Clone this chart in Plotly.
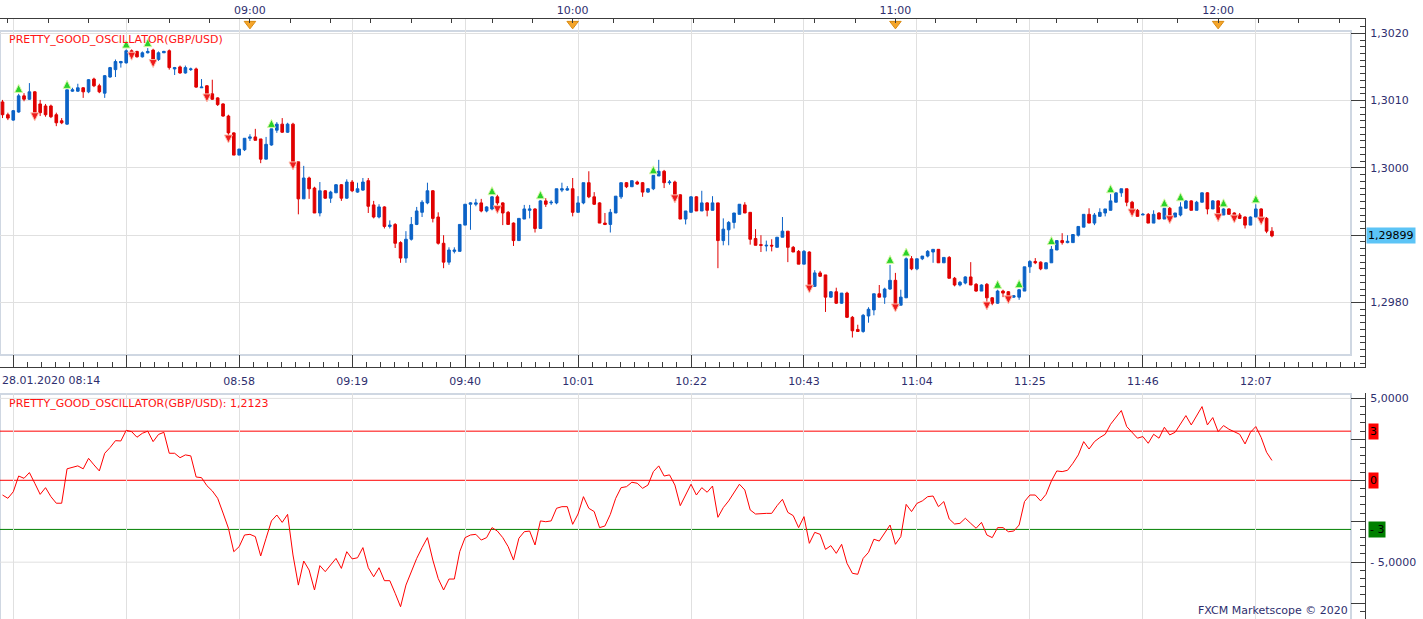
import pandas as pd
import plotly.graph_objects as go

# ---------------- data ----------------
open_ = [
    1.30098, 1.30079, 1.30071, 1.30083, 1.30107, 1.30102, 1.30113, 1.30095, 1.30092, 1.30092,
    1.30079, 1.30070, 1.30065, 1.30114, 1.30114, 1.30119, 1.30113, 1.30132, 1.30122, 1.30111,
    1.30135, 1.30146, 1.30156, 1.30156, 1.30174, 1.30173, 1.30165, 1.30171, 1.30175, 1.30161,
    1.30171, 1.30174, 1.30147, 1.30150, 1.30141, 1.30146, 1.30147, 1.30119, 1.30122, 1.30110,
    1.30104, 1.30095, 1.30077, 1.30052, 1.30019, 1.30027, 1.30044, 1.30046, 1.30043, 1.30013,
    1.30034, 1.30056, 1.30065, 1.30053, 1.30065, 1.30009, 1.29954, 1.29985, 1.29970, 1.29933,
    1.29966, 1.29955, 1.29963, 1.29975, 1.29955, 1.29979, 1.29964, 1.29967, 1.29981, 1.29945,
    1.29927, 1.29942, 1.29913, 1.29916, 1.29889, 1.29866, 1.29894, 1.29916, 1.29934, 1.29948,
    1.29966, 1.29927, 1.29888, 1.29860, 1.29876, 1.29876, 1.29915, 1.29946, 1.29946, 1.29948,
    1.29936, 1.29939, 1.29957, 1.29948, 1.29934, 1.29918, 1.29892, 1.29924, 1.29937, 1.29939,
    1.29910, 1.29951, 1.29948, 1.29948, 1.29967, 1.29967, 1.29969, 1.29934, 1.29948, 1.29978,
    1.29957, 1.29948, 1.29918, 1.29916, 1.29933, 1.29957, 1.29978, 1.29972, 1.29979, 1.29978,
    1.29964, 1.29969, 1.29988, 1.29995, 1.29978, 1.29979, 1.29960, 1.29924, 1.29934, 1.29957,
    1.29936, 1.29948, 1.29937, 1.29948, 1.29892, 1.29908, 1.29919, 1.29931, 1.29945, 1.29934,
    1.29895, 1.29886, 1.29884, 1.29885, 1.29882, 1.29897, 1.29906, 1.29882, 1.29876, 1.29857,
    1.29875, 1.29824, 1.29844, 1.29841, 1.29808, 1.29816, 1.29799, 1.29814, 1.29778, 1.29760,
    1.29757, 1.29780, 1.29789, 1.29813, 1.29808, 1.29820, 1.29833, 1.29796, 1.29807, 1.29865,
    1.29850, 1.29865, 1.29869, 1.29875, 1.29879, 1.29859, 1.29867, 1.29836, 1.29826, 1.29829,
    1.29838, 1.29827, 1.29817, 1.29827, 1.29807, 1.29799, 1.29817, 1.29816, 1.29808, 1.29808,
    1.29817, 1.29853, 1.29861, 1.29860, 1.29850, 1.29859, 1.29878, 1.29892, 1.29889, 1.29889,
    1.29900, 1.29912, 1.29931, 1.29918, 1.29928, 1.29933, 1.29937, 1.29949, 1.29963, 1.29969,
    1.29949, 1.29937, 1.29930, 1.29931, 1.29918, 1.29933, 1.29924, 1.29940, 1.29927, 1.29930,
    1.29940, 1.29951, 1.29937, 1.29949, 1.29963, 1.29939, 1.29951, 1.29930, 1.29939, 1.29933,
    1.29930, 1.29927, 1.29915, 1.29927, 1.29939, 1.29925, 1.29906,
]
high_ = [
    1.30101, 1.30082, 1.30086, 1.30110, 1.30111, 1.30126, 1.30114, 1.30101, 1.30095, 1.30094,
    1.30082, 1.30074, 1.30116, 1.30119, 1.30125, 1.30120, 1.30132, 1.30134, 1.30125, 1.30138,
    1.30150, 1.30161, 1.30159, 1.30176, 1.30176, 1.30174, 1.30173, 1.30178, 1.30177, 1.30173,
    1.30174, 1.30176, 1.30150, 1.30152, 1.30152, 1.30149, 1.30149, 1.30132, 1.30123, 1.30131,
    1.30105, 1.30096, 1.30079, 1.30053, 1.30028, 1.30044, 1.30050, 1.30058, 1.30043, 1.30046,
    1.30058, 1.30068, 1.30074, 1.30067, 1.30067, 1.30009, 1.30003, 1.29987, 1.29972, 1.29979,
    1.29967, 1.29966, 1.29976, 1.29976, 1.29983, 1.29982, 1.29978, 1.29985, 1.29985, 1.29951,
    1.29946, 1.29943, 1.29922, 1.29918, 1.29891, 1.29906, 1.29927, 1.29942, 1.29952, 1.29978,
    1.29967, 1.29934, 1.29900, 1.29882, 1.29882, 1.29916, 1.29946, 1.29949, 1.29954, 1.29954,
    1.29943, 1.29958, 1.29960, 1.29949, 1.29936, 1.29919, 1.29925, 1.29945, 1.29945, 1.29940,
    1.29952, 1.29955, 1.29952, 1.29969, 1.29978, 1.29973, 1.29985, 1.29958, 1.29978, 1.29995,
    1.29964, 1.29949, 1.29933, 1.29939, 1.29958, 1.29978, 1.29979, 1.29981, 1.29981, 1.29979,
    1.29970, 1.29989, 1.30012, 1.29997, 1.29982, 1.29981, 1.29961, 1.29936, 1.29958, 1.29958,
    1.29966, 1.29949, 1.29958, 1.29948, 1.29925, 1.29921, 1.29933, 1.29946, 1.29949, 1.29934,
    1.29909, 1.29900, 1.29892, 1.29894, 1.29897, 1.29927, 1.29906, 1.29884, 1.29878, 1.29878,
    1.29876, 1.29848, 1.29847, 1.29841, 1.29817, 1.29822, 1.29814, 1.29816, 1.29780, 1.29767,
    1.29783, 1.29793, 1.29813, 1.29826, 1.29822, 1.29856, 1.29844, 1.29819, 1.29867, 1.29869,
    1.29865, 1.29869, 1.29878, 1.29879, 1.29879, 1.29867, 1.29869, 1.29838, 1.29832, 1.29839,
    1.29860, 1.29829, 1.29827, 1.29829, 1.29808, 1.29819, 1.29819, 1.29817, 1.29811, 1.29820,
    1.29853, 1.29863, 1.29866, 1.29861, 1.29860, 1.29884, 1.29892, 1.29903, 1.29900, 1.29901,
    1.29913, 1.29931, 1.29940, 1.29933, 1.29940, 1.29939, 1.29961, 1.29963, 1.29969, 1.29969,
    1.29951, 1.29939, 1.29933, 1.29933, 1.29937, 1.29934, 1.29940, 1.29942, 1.29933, 1.29949,
    1.29952, 1.29952, 1.29951, 1.29963, 1.29964, 1.29952, 1.29952, 1.29940, 1.29940, 1.29934,
    1.29933, 1.29928, 1.29928, 1.29946, 1.29940, 1.29927, 1.29912,
]
low_ = [
    1.30074, 1.30071, 1.30070, 1.30082, 1.30099, 1.30101, 1.30080, 1.30077, 1.30076, 1.30074,
    1.30062, 1.30065, 1.30064, 1.30113, 1.30113, 1.30104, 1.30111, 1.30120, 1.30111, 1.30104,
    1.30134, 1.30135, 1.30149, 1.30155, 1.30170, 1.30164, 1.30164, 1.30170, 1.30159, 1.30159,
    1.30171, 1.30146, 1.30138, 1.30140, 1.30140, 1.30144, 1.30119, 1.30119, 1.30108, 1.30101,
    1.30092, 1.30076, 1.30047, 1.30019, 1.30019, 1.30025, 1.30040, 1.30041, 1.30007, 1.30013,
    1.30033, 1.30052, 1.30052, 1.30052, 1.30007, 1.29931, 1.29954, 1.29954, 1.29933, 1.29928,
    1.29954, 1.29948, 1.29963, 1.29951, 1.29954, 1.29964, 1.29963, 1.29966, 1.29933, 1.29925,
    1.29925, 1.29910, 1.29910, 1.29881, 1.29859, 1.29859, 1.29892, 1.29915, 1.29927, 1.29946,
    1.29919, 1.29886, 1.29851, 1.29856, 1.29873, 1.29876, 1.29915, 1.29908, 1.29943, 1.29934,
    1.29934, 1.29937, 1.29942, 1.29915, 1.29916, 1.29884, 1.29892, 1.29924, 1.29925, 1.29904,
    1.29910, 1.29942, 1.29945, 1.29946, 1.29964, 1.29966, 1.29928, 1.29934, 1.29946, 1.29955,
    1.29945, 1.29918, 1.29915, 1.29904, 1.29933, 1.29954, 1.29970, 1.29972, 1.29975, 1.29957,
    1.29963, 1.29967, 1.29988, 1.29970, 1.29975, 1.29958, 1.29924, 1.29916, 1.29934, 1.29936,
    1.29936, 1.29928, 1.29937, 1.29851, 1.29885, 1.29885, 1.29910, 1.29931, 1.29933, 1.29886,
    1.29885, 1.29875, 1.29876, 1.29876, 1.29882, 1.29897, 1.29860, 1.29875, 1.29857, 1.29857,
    1.29824, 1.29823, 1.29838, 1.29786, 1.29807, 1.29798, 1.29798, 1.29777, 1.29748, 1.29757,
    1.29755, 1.29770, 1.29781, 1.29808, 1.29798, 1.29819, 1.29796, 1.29796, 1.29807, 1.29848,
    1.29848, 1.29863, 1.29867, 1.29859, 1.29859, 1.29859, 1.29836, 1.29824, 1.29824, 1.29827,
    1.29826, 1.29816, 1.29817, 1.29799, 1.29796, 1.29798, 1.29808, 1.29808, 1.29807, 1.29804,
    1.29817, 1.29844, 1.29857, 1.29848, 1.29850, 1.29859, 1.29878, 1.29886, 1.29888, 1.29889,
    1.29898, 1.29912, 1.29918, 1.29915, 1.29928, 1.29928, 1.29937, 1.29949, 1.29957, 1.29943,
    1.29937, 1.29928, 1.29930, 1.29918, 1.29918, 1.29924, 1.29924, 1.29927, 1.29927, 1.29928,
    1.29940, 1.29937, 1.29937, 1.29949, 1.29931, 1.29939, 1.29930, 1.29930, 1.29931, 1.29928,
    1.29924, 1.29910, 1.29915, 1.29927, 1.29925, 1.29903, 1.29897,
]
close_ = [
    1.30079, 1.30074, 1.30085, 1.30107, 1.30102, 1.30113, 1.30082, 1.30082, 1.30079, 1.30076,
    1.30067, 1.30067, 1.30116, 1.30116, 1.30119, 1.30113, 1.30131, 1.30122, 1.30113, 1.30137,
    1.30149, 1.30158, 1.30158, 1.30174, 1.30171, 1.30165, 1.30171, 1.30173, 1.30161, 1.30171,
    1.30173, 1.30149, 1.30149, 1.30141, 1.30149, 1.30147, 1.30120, 1.30120, 1.30110, 1.30102,
    1.30094, 1.30077, 1.30052, 1.30019, 1.30028, 1.30044, 1.30046, 1.30041, 1.30013, 1.30035,
    1.30058, 1.30065, 1.30053, 1.30065, 1.30007, 1.29954, 1.29985, 1.29969, 1.29933, 1.29966,
    1.29955, 1.29964, 1.29975, 1.29955, 1.29979, 1.29966, 1.29969, 1.29979, 1.29943, 1.29927,
    1.29942, 1.29913, 1.29915, 1.29888, 1.29866, 1.29894, 1.29916, 1.29936, 1.29949, 1.29966,
    1.29925, 1.29888, 1.29860, 1.29878, 1.29878, 1.29916, 1.29946, 1.29948, 1.29948, 1.29936,
    1.29942, 1.29957, 1.29948, 1.29933, 1.29916, 1.29892, 1.29925, 1.29939, 1.29939, 1.29910,
    1.29951, 1.29946, 1.29949, 1.29969, 1.29969, 1.29969, 1.29934, 1.29948, 1.29978, 1.29957,
    1.29946, 1.29918, 1.29916, 1.29934, 1.29958, 1.29978, 1.29972, 1.29981, 1.29976, 1.29964,
    1.29969, 1.29989, 1.29995, 1.29978, 1.29979, 1.29958, 1.29924, 1.29936, 1.29957, 1.29936,
    1.29948, 1.29937, 1.29948, 1.29892, 1.29909, 1.29919, 1.29933, 1.29946, 1.29933, 1.29894,
    1.29885, 1.29885, 1.29885, 1.29884, 1.29897, 1.29906, 1.29882, 1.29875, 1.29857, 1.29876,
    1.29824, 1.29844, 1.29839, 1.29808, 1.29816, 1.29799, 1.29814, 1.29778, 1.29758, 1.29757,
    1.29781, 1.29790, 1.29813, 1.29808, 1.29820, 1.29833, 1.29796, 1.29808, 1.29865, 1.29850,
    1.29865, 1.29869, 1.29876, 1.29879, 1.29859, 1.29867, 1.29836, 1.29826, 1.29830, 1.29838,
    1.29826, 1.29817, 1.29826, 1.29807, 1.29799, 1.29817, 1.29814, 1.29808, 1.29810, 1.29819,
    1.29853, 1.29861, 1.29859, 1.29850, 1.29859, 1.29879, 1.29892, 1.29889, 1.29891, 1.29901,
    1.29913, 1.29931, 1.29918, 1.29930, 1.29934, 1.29939, 1.29951, 1.29963, 1.29969, 1.29949,
    1.29937, 1.29928, 1.29931, 1.29918, 1.29931, 1.29924, 1.29940, 1.29927, 1.29933, 1.29942,
    1.29951, 1.29937, 1.29949, 1.29963, 1.29939, 1.29951, 1.29930, 1.29939, 1.29931, 1.29928,
    1.29925, 1.29915, 1.29927, 1.29939, 1.29925, 1.29906, 1.29899,
]
osc = [
    -0.90, -1.10, -0.70, 0.26, 0.12, 0.47, -0.18, -0.86, -0.45, -1.00,
    -1.40, -1.40, 0.70, 0.77, 0.88, 0.70, 1.34, 0.94, 0.57, 1.65,
    2.00, 2.42, 2.40, 3.05, 2.97, 2.63, 2.87, 3.00, 2.36, 2.80,
    2.93, 1.65, 1.65, 1.38, 1.55, 1.49, 0.20, 0.16, -0.33, -0.65,
    -1.10, -2.00, -2.93, -4.36, -4.05, -3.34, -3.30, -3.44, -4.62, -3.54,
    -2.48, -2.12, -2.57, -2.08, -4.56, -6.40, -4.93, -5.48, -6.70, -5.21,
    -5.58, -5.17, -4.77, -5.38, -4.36, -4.80, -4.73, -4.11, -5.34, -5.89,
    -5.34, -6.13, -6.13, -6.90, -7.72, -6.40, -5.52, -4.77, -4.11, -3.50,
    -4.87, -6.00, -6.70, -6.03, -6.03, -4.36, -3.50, -3.34, -3.30, -3.65,
    -3.50, -2.89, -3.10, -3.50, -4.05, -4.87, -3.54, -3.14, -3.10, -3.95,
    -2.48, -2.53, -2.48, -1.71, -1.61, -1.61, -2.69, -2.06, -1.00, -1.71,
    -1.91, -2.89, -2.79, -2.08, -1.10, -0.45, -0.39, -0.12, -0.18, -0.49,
    -0.29, 0.53, 0.88, 0.26, 0.33, -0.29, -1.55, -0.90, -0.24, -0.90,
    -0.45, -0.73, -0.35, -2.26, -1.67, -1.26, -0.73, -0.24, -0.59, -1.81,
    -2.06, -2.02, -2.02, -2.02, -1.55, -1.16, -1.96, -2.16, -2.89, -2.22,
    -3.85, -3.18, -3.30, -4.22, -3.99, -4.46, -3.91, -5.07, -5.68, -5.74,
    -4.77, -4.40, -3.60, -3.71, -3.24, -2.73, -3.91, -3.44, -1.47, -1.91,
    -1.41, -1.26, -1.00, -0.96, -1.61, -1.30, -2.36, -2.67, -2.63, -2.32,
    -2.63, -2.93, -2.57, -3.34, -3.50, -2.89, -2.89, -3.14, -3.10, -2.73,
    -1.30, -0.90, -0.90, -1.26, -0.86, -0.04, 0.57, 0.53, 0.61, 1.04,
    1.55, 2.36, 1.91, 2.36, 2.61, 2.81, 3.42, 3.83, 4.26, 3.28,
    2.93, 2.57, 2.67, 2.26, 2.81, 2.57, 3.24, 2.77, 2.93, 3.48,
    3.95, 3.38, 3.95, 4.50, 3.38, 3.83, 2.97, 3.34, 3.12, 2.97,
    2.81, 2.22, 2.93, 3.28, 2.61, 1.71, 1.2123,
]
buy_signals = [3, 12, 23, 27, 50, 91, 100, 121, 165, 168, 185, 189, 195, 206, 216, 219, 227, 233]
sell_signals = [6, 24, 28, 38, 42, 54, 92, 125, 150, 166, 183, 187, 210, 217, 226, 229, 234]
price_ticks = [1.298, 1.299, 1.300, 1.301, 1.302]
osc_levels = [3, 0, -3]
osc_level_labels = ["3", "0", "- 3"]
osc_level_colors = ["#ff0000", "#ff0000", "#008000"]
osc_ticks = [5, 2.5, 0, -2.5, -5, -7.5]
osc_tick_text = ["5,0000", "", "", "", "- 5,0000", ""]
symbol = "GBP/USD"
start = pd.Timestamp("2020-01-28 08:14")

times = [start + pd.Timedelta(minutes=i) for i in range(len(close_))]

# ---------------- geometry helpers ----------------
W, H = 1423, 619
MR, MT = 58, 19
PW, PH = W - MR, H - MT


def fx(px):
    return px / PW


def fy(py):
    return (H - py) / PH


t_lo = start - pd.Timedelta(seconds=28)
t_hi = start + pd.Timedelta(minutes=253.3)
price_range = [1.297042, 1.302212]
osc_range = [-8.47, 5.33]

BLUE = "#0b62c6"
RED = "#e00000"
TXT = "#2e2e6e"
AX = "#3c3c3c"
GRID = "#e0e0e0"
FRAME = "#cfd7e2"
FONT = "DejaVu Sans"

# price tick labels: the last-price box replaces a label that would collide with it
price_text = ["" if abs(p - close_[-1]) < 0.00025 else f"{p:.4f}".replace(".", ",") for p in price_ticks]

major = [start + pd.Timedelta(minutes=2 + 21 * k) for k in range(12)]
major_text = ["" if k < 2 else t.strftime("%H:%M") for k, t in enumerate(major)]
top_ticks = [pd.Timestamp("2020-01-28 08:15") + pd.Timedelta(minutes=7.5 * k) for k in range(34)]
top_text = [t.strftime("%H:%M") if (t.minute == 0 and t.second == 0) else "" for t in top_ticks]
hours = [t for t in top_ticks if t.minute == 0 and t.second == 0]

fig = go.Figure()

fig.add_trace(go.Candlestick(
    x=times, open=open_, high=high_, low=low_, close=close_,
    increasing=dict(line=dict(color=BLUE, width=1), fillcolor=BLUE),
    decreasing=dict(line=dict(color=RED, width=1), fillcolor=RED),
    whiskerwidth=0, xaxis="x", yaxis="y", showlegend=False, hoverinfo="skip",
))
fig.add_trace(go.Scatter(
    x=[times[i] for i in buy_signals], y=[high_[i] + 0.00014 for i in buy_signals],
    mode="markers", xaxis="x", yaxis="y", showlegend=False, hoverinfo="skip",
    marker=dict(symbol="arrow-up", size=8, color="#2ad22a", line=dict(color="#d8f7a8", width=1)),
))
fig.add_trace(go.Scatter(
    x=[times[i] for i in sell_signals], y=[low_[i] - 0.0001 for i in sell_signals],
    mode="markers", xaxis="x", yaxis="y", showlegend=False, hoverinfo="skip",
    marker=dict(symbol="arrow-down", size=8, color="#ee1c1c", line=dict(color="#ffc0b0", width=1)),
))
fig.add_trace(go.Scatter(
    x=times, y=osc, mode="lines", line=dict(color="#ff0000", width=1),
    xaxis="x2", yaxis="y2", showlegend=False, hoverinfo="skip",
))
fig.add_trace(go.Scatter(
    x=hours, y=[0.986] * len(hours), mode="markers", xaxis="x3", yaxis="y3",
    showlegend=False, hoverinfo="skip",
    marker=dict(symbol="triangle-down", size=10, color="#f5a52a", line=dict(color="#d98a10", width=1)),
))

tickfont = dict(family=FONT, size=11, color=TXT)
main_dom = [fy(367), 1.0]
osc_dom = [0.0, fy(393)]

shapes = []
white = dict(type="rect", xref="paper", yref="paper", fillcolor="white", line=dict(width=0), layer="between")
shapes.append({**white, "x0": 0, "x1": 1, "y0": fy(31), "y1": 1})
shapes.append({**white, "x0": 0, "x1": 1, "y0": main_dom[0], "y1": fy(355)})
shapes.append({**white, "x0": fx(1352), "x1": 1, "y0": main_dom[0], "y1": 1})
shapes.append({**white, "x0": fx(1352), "x1": 1, "y0": 0, "y1": osc_dom[1]})
shapes.append(dict(type="rect", xref="paper", yref="paper", x0=0, x1=fx(1351), y0=fy(355), y1=fy(31),
                   line=dict(color=FRAME, width=2), layer="between"))
shapes.append(dict(type="rect", xref="paper", yref="paper", x0=0, x1=fx(1351), y0=-0.01, y1=fy(394),
                   line=dict(color=FRAME, width=2), layer="between"))
for g in (5, -5):
    shapes.append(dict(type="line", xref="paper", yref="y2", x0=0, x1=fx(1351), y0=g, y1=g,
                       line=dict(color=GRID, width=1), layer="below"))
for lv, col in zip(osc_levels, osc_level_colors):
    shapes.append(dict(type="line", xref="paper", yref="y2", x0=0, x1=fx(1351), y0=lv, y1=lv,
                       line=dict(color=col, width=1), layer="between"))

annotations = [
    dict(text=f"PRETTY_GOOD_OSCILLATOR({symbol})", xref="paper", yref="paper", x=fx(7), y=fy(39),
         xanchor="left", yanchor="middle", showarrow=False, font=dict(family=FONT, size=11, color="#ff1414")),
    dict(text=f"PRETTY_GOOD_OSCILLATOR({symbol}): " + f"{osc[-1]:.4f}".replace(".", ","),
         xref="paper", yref="paper", x=fx(7), y=fy(403), xanchor="left", yanchor="middle",
         showarrow=False, font=dict(family=FONT, size=11, color="#ff1414")),
    dict(text=start.strftime("%d.%m.%Y %H:%M"), xref="paper", yref="paper", x=0, y=fy(381),
         xanchor="left", yanchor="middle", showarrow=False, font=tickfont),
    dict(text="FXCM Marketscope © 2020", xref="paper", yref="paper", x=fx(1350), y=fy(610),
         xanchor="right", yanchor="middle", showarrow=False, font=tickfont),
    dict(text=f"{close_[-1]:.5f}".replace(".", ","), xref="paper", yref="y", x=fx(1366), y=close_[-1],
         xanchor="left", yanchor="middle", showarrow=False, bgcolor="#5cc4f6", borderpad=1,
         font=dict(family=FONT, size=11, color="#000000")),
]
for lv, lab, col in zip(osc_levels, osc_level_labels, osc_level_colors):
    annotations.append(dict(text=lab, xref="paper", yref="y2", x=fx(1368), y=lv, xanchor="left",
                            yanchor="middle", showarrow=False, bgcolor=col, borderpad=1,
                            font=dict(family=FONT, size=11, color="#000000")))

fig.update_layout(
    width=W, height=H, margin=dict(l=0, r=MR, t=MT, b=0, pad=0),
    paper_bgcolor="white", plot_bgcolor="white", separators=",.",
    showlegend=False, font=dict(family=FONT, size=11, color=TXT),
    xaxis=dict(
        domain=[0, 1], anchor="y", type="date", range=[t_lo, t_hi],
        tickmode="array", tickvals=major, ticktext=major_text, tickfont=tickfont,
        ticks="inside", ticklen=12, tickcolor=AX, showline=True, linecolor=AX, linewidth=1,
        showgrid=True, gridcolor=GRID, gridwidth=1, zeroline=False, ticklabelstandoff=4,
        rangeslider=dict(visible=False),
        minor=dict(ticks="inside", ticklen=5, tickcolor=AX, tickmode="linear",
                   tick0=major[0], dtick=157500, showgrid=False),
    ),
    xaxis3=dict(
        overlaying="x", anchor="y", side="top", type="date", range=[t_lo, t_hi],
        tickmode="array", tickvals=top_ticks, ticktext=top_text, tickfont=tickfont,
        ticks="inside", ticklen=4, tickcolor=AX, showline=True, linecolor=AX, linewidth=1,
        showgrid=False, zeroline=False,
    ),
    yaxis=dict(
        domain=main_dom, anchor="x", side="right", range=price_range,
        tickmode="array", tickvals=price_ticks, ticktext=price_text, tickfont=tickfont,
        ticks="inside", ticklen=14, tickcolor=AX, showline=True, linecolor=AX, linewidth=1,
        showgrid=True, gridcolor=GRID, gridwidth=1, zeroline=False, ticklabelstandoff=2,
        minor=dict(ticks="inside", ticklen=5, tickcolor=AX, tickmode="linear", tick0=1.298,
                   dtick=0.0001, showgrid=False),
    ),
    yaxis3=dict(overlaying="y", anchor="x3", range=[0, 1], visible=False),
    xaxis2=dict(
        domain=[0, 1], anchor="y2", type="date", range=[t_lo, t_hi],
        tickmode="array", tickvals=major, showticklabels=False, ticks="",
        showline=False, showgrid=True, gridcolor=GRID, gridwidth=1, zeroline=False,
    ),
    yaxis2=dict(
        domain=osc_dom, anchor="x2", side="right", range=osc_range,
        tickmode="array", tickvals=osc_ticks, ticktext=osc_tick_text, tickfont=tickfont,
        ticks="inside", ticklen=14, tickcolor=AX, showline=True, linecolor=AX, linewidth=1,
        showgrid=False, zeroline=False, ticklabelstandoff=2,
        minor=dict(ticks="inside", ticklen=5, tickcolor=AX, tickmode="linear", tick0=0, dtick=0.5, showgrid=False),
    ),
    shapes=shapes, annotations=annotations,
)

fig.write_html("out.html")
